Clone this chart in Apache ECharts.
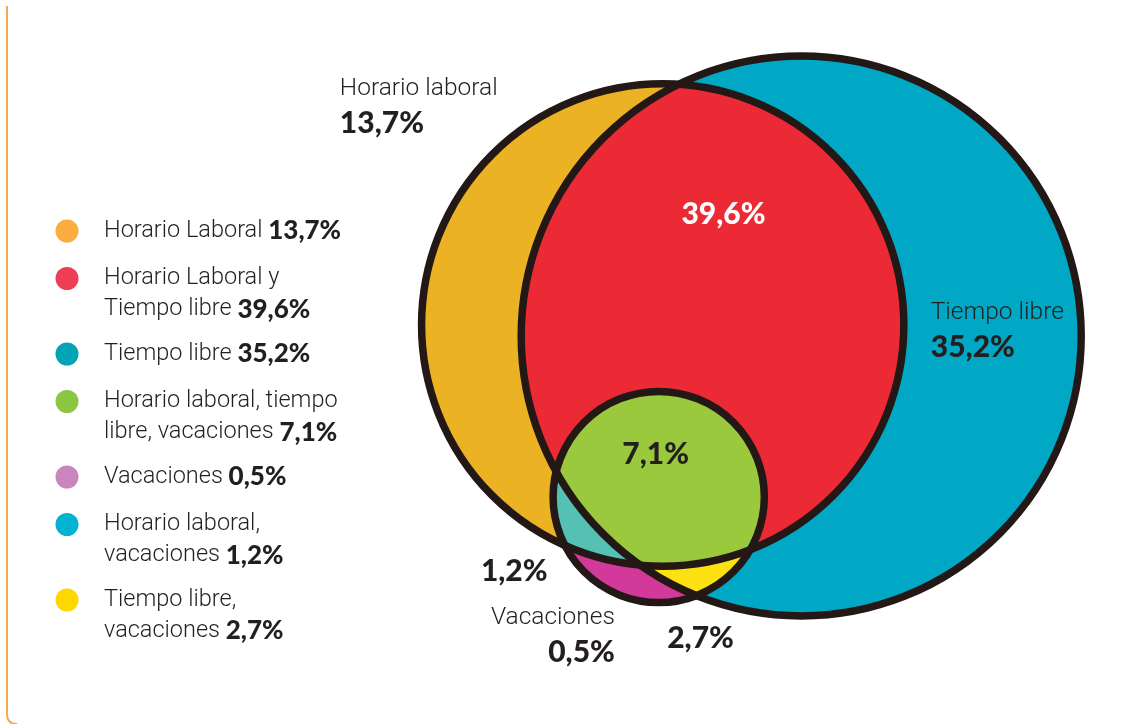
<!DOCTYPE html>
<html>
<head>
<meta charset="utf-8">
<title>Horario laboral, tiempo libre y vacaciones</title>
<script src="https://cdn.jsdelivr.net/npm/echarts@6/dist/echarts.min.js"></script>
<style>
  html, body { margin: 0; padding: 0; background: #ffffff; }
  #chart { width: 1137px; height: 724px; }
</style>
</head>
<body>
<div id="chart"></div>
<script>
// ---- data -------------------------------------------------------------
// Venn regions, in legend order
const regionNames = [
  'Horario Laboral',
  'Horario Laboral y\nTiempo libre',
  'Tiempo libre',
  'Horario laboral, tiempo\nlibre, vacaciones',
  'Vacaciones',
  'Horario laboral,\nvacaciones',
  'Tiempo libre,\nvacaciones'
];
const regionValues = [13.7, 39.6, 35.2, 7.1, 0.5, 1.2, 2.7];
// which sets each region belongs to (L = horario laboral, T = tiempo libre, V = vacaciones)
const regionSets = [['L'], ['L', 'T'], ['T'], ['L', 'T', 'V'], ['V'], ['L', 'V'], ['T', 'V']];

const setKeys = ['L', 'T', 'V'];
const setTitles = ['Horario laboral', 'Tiempo libre', 'Vacaciones'];

// ---- layout (axis units) ---------------------------------------------
const circleLayout = {
  L: { cx: 182, cy: 162.5, r: 121 },
  T: { cx: 251.5, cy: 168, r: 140.5 },
  V: { cx: 180, cy: 248.5, r: 53 }
};
// where each region's value is written (x, centre of the first line, alignment)
const labelLayout = [
  { region: 0, x: 20, y: 44, align: 'left', title: setTitles[0] },
  { region: 1, x: 212.5, y: 106.5, align: 'center', light: true },
  { region: 2, x: 316.5, y: 156, align: 'left', title: setTitles[1] },
  { region: 3, x: 178.5, y: 226.5, align: 'center' },
  { region: 5, x: 107.5, y: 285, align: 'center' },
  { region: 4, x: 158, y: 308.5, align: 'right', title: setTitles[2] },
  { region: 6, x: 201, y: 318.5, align: 'center' }
];

// ---- style -----------------------------------------------------------
const regionFill = ['#EBB324', '#EC2A36', '#00A8C6', '#9BC93D', '#D3399B', '#55C0B4', '#FCE112'];
const legendDot = ['#FBAD40', '#EE3E56', '#00A4B5', '#8DC643', '#C986BD', '#00B3D1', '#FFD700'];
const outlineColor = '#231815';
const textColor = '#231F20';
const fmt = v => v.toFixed(1).replace('.', ',') + '%';

// paint the single sets first, then pairs, then the triple overlap
const paintOrder = regionNames.map((_, i) => i)
  .sort((a, b) => regionSets[a].length - regionSets[b].length || a - b);

function toPixels(api, key) {
  const c = circleLayout[key];
  const p = api.coord([c.cx, c.cy]);
  return { x: p[0], y: p[1], r: api.size([c.r, 0])[0] };
}

// boundary of the (convex) intersection of several circles
function intersection(circles) {
  const pts = [];
  const N = 1440;
  circles.forEach((c, i) => {
    for (let k = 0; k < N; k++) {
      const a = 2 * Math.PI * k / N;
      const x = c.x + c.r * Math.cos(a);
      const y = c.y + c.r * Math.sin(a);
      const inside = circles.every((o, j) => j === i || Math.hypot(x - o.x, y - o.y) <= o.r);
      if (inside) pts.push([x, y]);
    }
  });
  let mx = 0, my = 0;
  pts.forEach(p => { mx += p[0]; my += p[1]; });
  mx /= pts.length; my /= pts.length;
  pts.sort((p, q) => Math.atan2(p[1] - my, p[0] - mx) - Math.atan2(q[1] - my, q[0] - mx));
  return pts;
}

// ---- legend, drawn as graphic text ------------------------------------
const legendGraphic = [];
let rowY = 231;
regionNames.forEach((name, i) => {
  const lines = name.split('\n');
  legendGraphic.push({
    type: 'circle',
    shape: { cx: 67, cy: rowY, r: 11.5 },
    style: { fill: legendDot[i] }
  });
  const rich = lines.map((ln, k) => k === lines.length - 1
    ? '{n|' + ln + ' }{b|' + fmt(regionValues[i]) + '}'
    : '{n|' + ln + '}').join('\n');
  legendGraphic.push({
    type: 'text',
    x: 104,
    y: rowY - 15.5,
    style: {
      text: rich,
      rich: {
        n: { fontFamily: 'Roboto', fontWeight: 300, fontSize: 23.5, lineHeight: 31, fill: textColor },
        b: { fontFamily: 'Lato', fontWeight: 900, fontSize: 26, lineHeight: 31, fill: textColor }
      },
      verticalAlign: 'top',
      align: 'left'
    }
  });
  rowY += 47.5 + 28 * (lines.length - 1);
});

// frame line on the left edge, turning at the bottom corner
legendGraphic.push({
  type: 'polyline',
  shape: { points: [[7, 6], [7, 714]] },
  style: { fill: null, stroke: '#F7A855', lineWidth: 2 }
});
legendGraphic.push({
  type: 'bezierCurve',
  shape: { x1: 7, y1: 714, cpx1: 7, cpy1: 724, x2: 17, y2: 724 },
  style: { fill: null, stroke: '#F7A855', lineWidth: 2 }
});

// ---- chart -------------------------------------------------------------
const chart = echarts.init(document.getElementById('chart'), null, { renderer: 'canvas' });

chart.setOption({
  backgroundColor: '#ffffff',
  animation: false,
  grid: { left: 300, top: 0, width: 840, height: 720 },
  xAxis: { type: 'value', min: 0, max: 420, show: false },
  yAxis: { type: 'value', min: 0, max: 360, inverse: true, show: false },
  graphic: legendGraphic,
  series: [
    {
      name: 'regiones',
      type: 'custom',
      coordinateSystem: 'cartesian2d',
      z: 2,
      silent: true,
      data: paintOrder.map(i => ({ name: regionNames[i], value: [regionValues[i]] })),
      renderItem: function (params, api) {
        const ri = paintOrder[params.dataIndex];
        const circles = regionSets[ri].map(k => toPixels(api, k));
        const fill = regionFill[ri];
        if (circles.length === 1) {
          const c = circles[0];
          return { type: 'circle', z2: params.dataIndex, shape: { cx: c.x, cy: c.y, r: c.r }, style: { fill: fill } };
        }
        return {
          type: 'polygon', z2: params.dataIndex,
          shape: { points: intersection(circles) },
          style: { fill: fill, stroke: fill, lineWidth: 1 }
        };
      }
    },
    {
      name: 'contornos',
      type: 'custom',
      coordinateSystem: 'cartesian2d',
      z: 3,
      silent: true,
      data: setKeys.map((k, i) => ({ name: setTitles[i], value: [i] })),
      renderItem: function (params, api) {
        const c = toPixels(api, setKeys[params.dataIndex]);
        return {
          type: 'circle',
          shape: { cx: c.x, cy: c.y, r: c.r },
          style: { fill: null, stroke: outlineColor, lineWidth: 7.5 }
        };
      }
    },
    {
      name: 'etiquetas',
      type: 'custom',
      coordinateSystem: 'cartesian2d',
      z: 4,
      silent: true,
      data: labelLayout.map(l => ({ name: regionNames[l.region], value: [l.x, l.y] })),
      renderItem: function (params, api) {
        const l = labelLayout[params.dataIndex];
        const p = api.coord([api.value(0), api.value(1)]);
        const val = fmt(regionValues[l.region]);
        const text = l.title ? '{t|' + l.title + '}\n{v|' + val + '}' : '{v|' + val + '}';
        return {
          type: 'text',
          x: p[0],
          y: p[1] - 16,
          style: {
            text: text,
            align: l.align,
            verticalAlign: 'top',
            rich: {
              t: { fontFamily: 'Roboto', fontWeight: 300, fontSize: 24.5, lineHeight: 34, fill: textColor, align: l.align },
              v: { fontFamily: 'Lato', fontWeight: 900, fontSize: 30, lineHeight: 34, fill: l.light ? '#ffffff' : textColor, align: l.align }
            }
          }
        };
      }
    }
  ]
});
</script>
</body>
</html>
